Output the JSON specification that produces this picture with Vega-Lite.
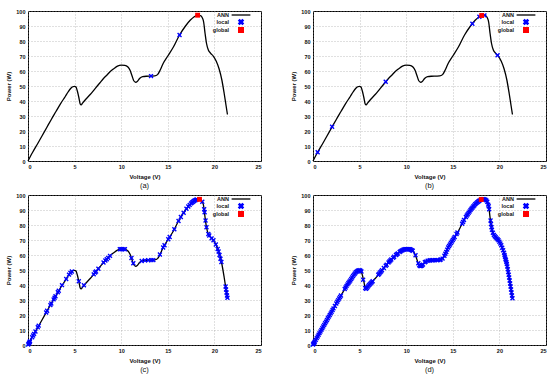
{
  "$schema": "https://vega.github.io/schema/vega-lite/v6.json",
  "background": "white",
  "padding": {"left": 5, "top": 8, "right": 4, "bottom": 0},
  "config": {
    "view": {"stroke": "black", "strokeWidth": 1},
    "font": "Liberation Sans",
    "axis": {
      "grid": true, "gridDash": [1, 2], "gridColor": "#999", "gridWidth": 0.6,
      "domain": false, "ticks": false, "labelOverlap": false,
      "labelFont": "Liberation Sans", "labelFontSize": 5.5, "labelFontWeight": "bold", "labelColor": "#111",
      "titleFont": "Liberation Sans", "titleFontSize": 6, "titleFontWeight": "bold", "titleColor": "#111",
      "labelPadding": 3, "titlePadding": 4
    },
    "title": {"font": "Liberation Sans", "fontSize": 7.5, "fontWeight": "normal", "color": "#111", "offset": 2},
    "legend": {
      "orient": "none", "legendX": 210, "legendY": 1, "title": null, "padding": 0,
      "labelFont": "Liberation Sans", "labelFontSize": 5.5, "labelFontWeight": "bold", "labelColor": "#111",
      "labelAlign": "right", "labelOffset": -15, "symbolOffset": 0, "symbolSize": 22, "rowPadding": -8, "labelLimit": 100
    }
  },
  "datasets": {
    "curve": [
      {"V": 0, "P": 0}, {"V": 0.5, "P": 5.8}, {"V": 1, "P": 11.2}, {"V": 1.5, "P": 16.7}, {"V": 2, "P": 22.2},
      {"V": 2.5, "P": 27.7}, {"V": 3, "P": 33}, {"V": 3.5, "P": 38.3}, {"V": 4, "P": 43}, {"V": 4.3, "P": 46},
      {"V": 4.6, "P": 48.5}, {"V": 4.8, "P": 49.5}, {"V": 5, "P": 49.8}, {"V": 5.15, "P": 49.3}, {"V": 5.3, "P": 46.5},
      {"V": 5.45, "P": 42.5}, {"V": 5.6, "P": 38}, {"V": 5.7, "P": 37.4}, {"V": 5.85, "P": 38.6}, {"V": 6.2, "P": 41.2},
      {"V": 6.7, "P": 44.5}, {"V": 7.2, "P": 48.3}, {"V": 7.7, "P": 52}, {"V": 8.1, "P": 55}, {"V": 8.5, "P": 57.5},
      {"V": 8.8, "P": 59.5}, {"V": 9.2, "P": 61.5}, {"V": 9.6, "P": 63.2}, {"V": 10, "P": 63.9}, {"V": 10.4, "P": 63.8},
      {"V": 10.7, "P": 62.8}, {"V": 10.95, "P": 60.5}, {"V": 11.15, "P": 57}, {"V": 11.35, "P": 53.5}, {"V": 11.55, "P": 52.5},
      {"V": 11.75, "P": 53.2}, {"V": 12, "P": 55.2}, {"V": 12.3, "P": 56.2}, {"V": 12.7, "P": 56.5}, {"V": 13.2, "P": 56.6},
      {"V": 13.6, "P": 56.7}, {"V": 13.9, "P": 57.6}, {"V": 14.2, "P": 60.8}, {"V": 14.5, "P": 65}, {"V": 15, "P": 70},
      {"V": 15.6, "P": 76}, {"V": 16.26, "P": 84}, {"V": 16.9, "P": 90}, {"V": 17.4, "P": 93.8}, {"V": 17.8, "P": 96},
      {"V": 18.2, "P": 97.2}, {"V": 18.5, "P": 96.9}, {"V": 18.7, "P": 95.5}, {"V": 18.85, "P": 92.5}, {"V": 19, "P": 85},
      {"V": 19.15, "P": 78.5}, {"V": 19.35, "P": 74}, {"V": 19.6, "P": 71.8}, {"V": 19.9, "P": 69.8}, {"V": 20.2, "P": 66.5},
      {"V": 20.5, "P": 61.5}, {"V": 20.8, "P": 54}, {"V": 21.05, "P": 45}, {"V": 21.25, "P": 37}, {"V": 21.4, "P": 31}
    ],
    "marks": [
      {"panel": "a", "type": "local", "V": 13.2, "P": 56.6},
      {"panel": "a", "type": "local", "V": 16.26, "P": 84},
      {"panel": "a", "type": "global", "V": 18.2, "P": 97.2},

      {"panel": "b", "type": "local", "V": 0.5, "P": 5.8},
      {"panel": "b", "type": "local", "V": 2.05, "P": 22.8},
      {"panel": "b", "type": "local", "V": 7.8, "P": 52.8},
      {"panel": "b", "type": "local", "V": 17.1, "P": 91.5},
      {"panel": "b", "type": "local", "V": 17.85, "P": 96.2},
      {"panel": "b", "type": "local", "V": 18.4, "P": 97.1},
      {"panel": "b", "type": "local", "V": 19.8, "P": 70.5},
      {"panel": "b", "type": "global", "V": 18.1, "P": 97},

      {"panel": "c", "type": "local", "V": 0.02, "P": 0.3}, {"panel": "c", "type": "local", "V": 0.08, "P": 0.9},
      {"panel": "c", "type": "local", "V": 0.12, "P": 1.4}, {"panel": "c", "type": "local", "V": 0.18, "P": 2},
      {"panel": "c", "type": "local", "V": 0.22, "P": 2.5}, {"panel": "c", "type": "local", "V": 0.45, "P": 5.2},
      {"panel": "c", "type": "local", "V": 0.55, "P": 6.3}, {"panel": "c", "type": "local", "V": 0.65, "P": 7.4},
      {"panel": "c", "type": "local", "V": 0.8, "P": 9}, {"panel": "c", "type": "local", "V": 1.05, "P": 11.8},
      {"panel": "c", "type": "local", "V": 1.15, "P": 12.9}, {"panel": "c", "type": "local", "V": 1.95, "P": 21.7},
      {"panel": "c", "type": "local", "V": 2.05, "P": 22.8}, {"panel": "c", "type": "local", "V": 2.4, "P": 26.6},
      {"panel": "c", "type": "local", "V": 2.5, "P": 27.7}, {"panel": "c", "type": "local", "V": 2.75, "P": 30.4},
      {"panel": "c", "type": "local", "V": 2.85, "P": 31.5}, {"panel": "c", "type": "local", "V": 2.95, "P": 32.5},
      {"panel": "c", "type": "local", "V": 3.2, "P": 35.2}, {"panel": "c", "type": "local", "V": 3.3, "P": 36.2},
      {"panel": "c", "type": "local", "V": 3.65, "P": 39.9}, {"panel": "c", "type": "local", "V": 4.1, "P": 44},
      {"panel": "c", "type": "local", "V": 4.4, "P": 46.9}, {"panel": "c", "type": "local", "V": 4.55, "P": 48.1},
      {"panel": "c", "type": "local", "V": 4.7, "P": 49}, {"panel": "c", "type": "local", "V": 5.45, "P": 42.5},
      {"panel": "c", "type": "local", "V": 6.0, "P": 39.8}, {"panel": "c", "type": "local", "V": 7.05, "P": 47.1},
      {"panel": "c", "type": "local", "V": 7.2, "P": 48.3}, {"panel": "c", "type": "local", "V": 7.3, "P": 49},
      {"panel": "c", "type": "local", "V": 7.55, "P": 50.8}, {"panel": "c", "type": "local", "V": 8.1, "P": 55},
      {"panel": "c", "type": "local", "V": 8.3, "P": 56.3}, {"panel": "c", "type": "local", "V": 8.45, "P": 57.2},
      {"panel": "c", "type": "local", "V": 8.6, "P": 58.1}, {"panel": "c", "type": "local", "V": 8.8, "P": 59.4},
      {"panel": "c", "type": "local", "V": 9.85, "P": 63.8}, {"panel": "c", "type": "local", "V": 10.0, "P": 63.9},
      {"panel": "c", "type": "local", "V": 10.1, "P": 63.9}, {"panel": "c", "type": "local", "V": 10.25, "P": 63.9},
      {"panel": "c", "type": "local", "V": 10.4, "P": 63.8}, {"panel": "c", "type": "local", "V": 11.1, "P": 58},
      {"panel": "c", "type": "local", "V": 11.3, "P": 54.5}, {"panel": "c", "type": "local", "V": 12.2, "P": 56},
      {"panel": "c", "type": "local", "V": 12.55, "P": 56.4}, {"panel": "c", "type": "local", "V": 12.9, "P": 56.5},
      {"panel": "c", "type": "local", "V": 13.25, "P": 56.6}, {"panel": "c", "type": "local", "V": 13.45, "P": 56.6},
      {"panel": "c", "type": "local", "V": 14.15, "P": 60.3}, {"panel": "c", "type": "local", "V": 14.5, "P": 65},
      {"panel": "c", "type": "local", "V": 14.65, "P": 66.5}, {"panel": "c", "type": "local", "V": 15.05, "P": 70.5},
      {"panel": "c", "type": "local", "V": 15.2, "P": 72}, {"panel": "c", "type": "local", "V": 15.7, "P": 77.2},
      {"panel": "c", "type": "local", "V": 16.15, "P": 82.7}, {"panel": "c", "type": "local", "V": 16.4, "P": 85.3},
      {"panel": "c", "type": "local", "V": 16.7, "P": 88.1}, {"panel": "c", "type": "local", "V": 17.0, "P": 90.8},
      {"panel": "c", "type": "local", "V": 17.2, "P": 92.3}, {"panel": "c", "type": "local", "V": 17.35, "P": 93.4},
      {"panel": "c", "type": "local", "V": 17.5, "P": 94.4}, {"panel": "c", "type": "local", "V": 17.6, "P": 95},
      {"panel": "c", "type": "local", "V": 17.7, "P": 95.5}, {"panel": "c", "type": "local", "V": 17.8, "P": 96},
      {"panel": "c", "type": "local", "V": 17.9, "P": 96.4}, {"panel": "c", "type": "local", "V": 18.0, "P": 96.7},
      {"panel": "c", "type": "local", "V": 18.1, "P": 97}, {"panel": "c", "type": "local", "V": 18.7, "P": 95.5},
      {"panel": "c", "type": "local", "V": 18.9, "P": 90.5}, {"panel": "c", "type": "local", "V": 18.95, "P": 88.5},
      {"panel": "c", "type": "local", "V": 19.05, "P": 83}, {"panel": "c", "type": "local", "V": 19.15, "P": 78.5},
      {"panel": "c", "type": "local", "V": 19.35, "P": 74}, {"panel": "c", "type": "local", "V": 19.45, "P": 73},
      {"panel": "c", "type": "local", "V": 19.7, "P": 71.1}, {"panel": "c", "type": "local", "V": 19.9, "P": 69.8},
      {"panel": "c", "type": "local", "V": 20.15, "P": 67}, {"panel": "c", "type": "local", "V": 20.35, "P": 64},
      {"panel": "c", "type": "local", "V": 20.45, "P": 62.3}, {"panel": "c", "type": "local", "V": 20.55, "P": 60},
      {"panel": "c", "type": "local", "V": 20.65, "P": 57.5}, {"panel": "c", "type": "local", "V": 20.75, "P": 55.3},
      {"panel": "c", "type": "local", "V": 21.2, "P": 39}, {"panel": "c", "type": "local", "V": 21.25, "P": 37},
      {"panel": "c", "type": "local", "V": 21.3, "P": 35}, {"panel": "c", "type": "local", "V": 21.35, "P": 33},
      {"panel": "c", "type": "local", "V": 21.4, "P": 31.5},
      {"panel": "c", "type": "global", "V": 18.4, "P": 97.1},

      {"panel": "d", "type": "local", "V": 0.0, "P": 0.3}, {"panel": "d", "type": "local", "V": 0.05, "P": 0.8},
      {"panel": "d", "type": "local", "V": 0.1, "P": 1.2}, {"panel": "d", "type": "local", "V": 0.15, "P": 1.7},
      {"panel": "d", "type": "local", "V": 0.2, "P": 2.3}, {"panel": "d", "type": "local", "V": 0.3, "P": 3.4},
      {"panel": "d", "type": "local", "V": 0.4, "P": 4.6}, {"panel": "d", "type": "local", "V": 0.5, "P": 5.7},
      {"panel": "d", "type": "local", "V": 0.6, "P": 6.8}, {"panel": "d", "type": "local", "V": 0.7, "P": 7.9},
      {"panel": "d", "type": "local", "V": 0.8, "P": 9}, {"panel": "d", "type": "local", "V": 0.9, "P": 10.1},
      {"panel": "d", "type": "local", "V": 1.0, "P": 11.2}, {"panel": "d", "type": "local", "V": 1.1, "P": 12.3},
      {"panel": "d", "type": "local", "V": 1.2, "P": 13.4}, {"panel": "d", "type": "local", "V": 1.3, "P": 14.5},
      {"panel": "d", "type": "local", "V": 1.4, "P": 15.6}, {"panel": "d", "type": "local", "V": 1.5, "P": 16.7},
      {"panel": "d", "type": "local", "V": 1.6, "P": 17.8}, {"panel": "d", "type": "local", "V": 1.7, "P": 18.9},
      {"panel": "d", "type": "local", "V": 1.8, "P": 20}, {"panel": "d", "type": "local", "V": 1.9, "P": 21.1},
      {"panel": "d", "type": "local", "V": 2.0, "P": 22.2}, {"panel": "d", "type": "local", "V": 2.1, "P": 23.3},
      {"panel": "d", "type": "local", "V": 2.2, "P": 24.4}, {"panel": "d", "type": "local", "V": 2.35, "P": 26},
      {"panel": "d", "type": "local", "V": 2.5, "P": 27.7}, {"panel": "d", "type": "local", "V": 2.6, "P": 28.8},
      {"panel": "d", "type": "local", "V": 2.7, "P": 29.9}, {"panel": "d", "type": "local", "V": 2.8, "P": 31},
      {"panel": "d", "type": "local", "V": 2.9, "P": 32}, {"panel": "d", "type": "local", "V": 3.0, "P": 33},
      {"panel": "d", "type": "local", "V": 3.4, "P": 37.3}, {"panel": "d", "type": "local", "V": 3.5, "P": 38.3},
      {"panel": "d", "type": "local", "V": 3.6, "P": 39.4}, {"panel": "d", "type": "local", "V": 3.7, "P": 40.4},
      {"panel": "d", "type": "local", "V": 3.8, "P": 41.3}, {"panel": "d", "type": "local", "V": 3.9, "P": 42.2},
      {"panel": "d", "type": "local", "V": 4.0, "P": 43}, {"panel": "d", "type": "local", "V": 4.1, "P": 44},
      {"panel": "d", "type": "local", "V": 4.2, "P": 45}, {"panel": "d", "type": "local", "V": 4.3, "P": 46},
      {"panel": "d", "type": "local", "V": 4.4, "P": 46.9}, {"panel": "d", "type": "local", "V": 4.5, "P": 47.7},
      {"panel": "d", "type": "local", "V": 4.6, "P": 48.5}, {"panel": "d", "type": "local", "V": 4.7, "P": 49},
      {"panel": "d", "type": "local", "V": 4.8, "P": 49.5}, {"panel": "d", "type": "local", "V": 4.9, "P": 49.7},
      {"panel": "d", "type": "local", "V": 5.0, "P": 49.8}, {"panel": "d", "type": "local", "V": 5.1, "P": 49.6},
      {"panel": "d", "type": "local", "V": 5.2, "P": 49}, {"panel": "d", "type": "local", "V": 5.38, "P": 43.5},
      {"panel": "d", "type": "local", "V": 5.6, "P": 38}, {"panel": "d", "type": "local", "V": 5.7, "P": 37.4},
      {"panel": "d", "type": "local", "V": 5.8, "P": 38.2}, {"panel": "d", "type": "local", "V": 5.9, "P": 39},
      {"panel": "d", "type": "local", "V": 6.0, "P": 39.8}, {"panel": "d", "type": "local", "V": 6.1, "P": 40.5},
      {"panel": "d", "type": "local", "V": 6.2, "P": 41.2}, {"panel": "d", "type": "local", "V": 6.3, "P": 41.8},
      {"panel": "d", "type": "local", "V": 6.4, "P": 42.5}, {"panel": "d", "type": "local", "V": 7.0, "P": 46.8},
      {"panel": "d", "type": "local", "V": 7.1, "P": 47.5}, {"panel": "d", "type": "local", "V": 7.2, "P": 48.3},
      {"panel": "d", "type": "local", "V": 7.3, "P": 49}, {"panel": "d", "type": "local", "V": 7.4, "P": 49.8},
      {"panel": "d", "type": "local", "V": 7.6, "P": 51.3}, {"panel": "d", "type": "local", "V": 7.8, "P": 52.8},
      {"panel": "d", "type": "local", "V": 7.9, "P": 53.5}, {"panel": "d", "type": "local", "V": 8.1, "P": 55},
      {"panel": "d", "type": "local", "V": 8.2, "P": 55.7}, {"panel": "d", "type": "local", "V": 8.3, "P": 56.3},
      {"panel": "d", "type": "local", "V": 8.4, "P": 57}, {"panel": "d", "type": "local", "V": 8.6, "P": 58.1},
      {"panel": "d", "type": "local", "V": 8.7, "P": 58.8}, {"panel": "d", "type": "local", "V": 8.9, "P": 60},
      {"panel": "d", "type": "local", "V": 9.0, "P": 60.5}, {"panel": "d", "type": "local", "V": 9.1, "P": 61},
      {"panel": "d", "type": "local", "V": 9.3, "P": 62}, {"panel": "d", "type": "local", "V": 9.4, "P": 62.5},
      {"panel": "d", "type": "local", "V": 9.5, "P": 62.9}, {"panel": "d", "type": "local", "V": 9.6, "P": 63.2},
      {"panel": "d", "type": "local", "V": 9.7, "P": 63.5}, {"panel": "d", "type": "local", "V": 9.8, "P": 63.7},
      {"panel": "d", "type": "local", "V": 9.9, "P": 63.8}, {"panel": "d", "type": "local", "V": 10.0, "P": 63.9},
      {"panel": "d", "type": "local", "V": 10.1, "P": 63.9}, {"panel": "d", "type": "local", "V": 10.2, "P": 63.9},
      {"panel": "d", "type": "local", "V": 10.3, "P": 63.8}, {"panel": "d", "type": "local", "V": 10.4, "P": 63.8},
      {"panel": "d", "type": "local", "V": 10.5, "P": 63.5}, {"panel": "d", "type": "local", "V": 10.6, "P": 63.2},
      {"panel": "d", "type": "local", "V": 10.7, "P": 62.8}, {"panel": "d", "type": "local", "V": 11.0, "P": 59.8},
      {"panel": "d", "type": "local", "V": 11.3, "P": 54.5}, {"panel": "d", "type": "local", "V": 11.4, "P": 53.2},
      {"panel": "d", "type": "local", "V": 11.5, "P": 52.6}, {"panel": "d", "type": "local", "V": 11.6, "P": 52.6},
      {"panel": "d", "type": "local", "V": 11.7, "P": 53}, {"panel": "d", "type": "local", "V": 11.8, "P": 53.6},
      {"panel": "d", "type": "local", "V": 12.0, "P": 55.2}, {"panel": "d", "type": "local", "V": 12.1, "P": 55.6},
      {"panel": "d", "type": "local", "V": 12.3, "P": 56.2}, {"panel": "d", "type": "local", "V": 12.5, "P": 56.4},
      {"panel": "d", "type": "local", "V": 12.6, "P": 56.5}, {"panel": "d", "type": "local", "V": 12.8, "P": 56.5},
      {"panel": "d", "type": "local", "V": 12.9, "P": 56.5}, {"panel": "d", "type": "local", "V": 13.1, "P": 56.6},
      {"panel": "d", "type": "local", "V": 13.3, "P": 56.6}, {"panel": "d", "type": "local", "V": 13.4, "P": 56.6},
      {"panel": "d", "type": "local", "V": 13.6, "P": 56.7}, {"panel": "d", "type": "local", "V": 13.7, "P": 57},
      {"panel": "d", "type": "local", "V": 13.9, "P": 57.6}, {"panel": "d", "type": "local", "V": 14.1, "P": 59.5},
      {"panel": "d", "type": "local", "V": 14.2, "P": 60.8}, {"panel": "d", "type": "local", "V": 14.3, "P": 62},
      {"panel": "d", "type": "local", "V": 14.4, "P": 63.6}, {"panel": "d", "type": "local", "V": 14.5, "P": 65},
      {"panel": "d", "type": "local", "V": 14.6, "P": 66}, {"panel": "d", "type": "local", "V": 14.7, "P": 67},
      {"panel": "d", "type": "local", "V": 14.8, "P": 68}, {"panel": "d", "type": "local", "V": 14.9, "P": 69},
      {"panel": "d", "type": "local", "V": 15.0, "P": 70}, {"panel": "d", "type": "local", "V": 15.1, "P": 71},
      {"panel": "d", "type": "local", "V": 15.2, "P": 72}, {"panel": "d", "type": "local", "V": 15.4, "P": 74},
      {"panel": "d", "type": "local", "V": 15.5, "P": 75}, {"panel": "d", "type": "local", "V": 16.0, "P": 80.8},
      {"panel": "d", "type": "local", "V": 16.1, "P": 82}, {"panel": "d", "type": "local", "V": 16.2, "P": 83.3},
      {"panel": "d", "type": "local", "V": 16.4, "P": 85.3}, {"panel": "d", "type": "local", "V": 16.5, "P": 86.3},
      {"panel": "d", "type": "local", "V": 16.6, "P": 87.2}, {"panel": "d", "type": "local", "V": 16.7, "P": 88.1},
      {"panel": "d", "type": "local", "V": 16.8, "P": 89}, {"panel": "d", "type": "local", "V": 16.9, "P": 90},
      {"panel": "d", "type": "local", "V": 17.0, "P": 90.8}, {"panel": "d", "type": "local", "V": 17.1, "P": 91.5},
      {"panel": "d", "type": "local", "V": 17.2, "P": 92.3}, {"panel": "d", "type": "local", "V": 17.3, "P": 93},
      {"panel": "d", "type": "local", "V": 17.4, "P": 93.8}, {"panel": "d", "type": "local", "V": 17.5, "P": 94.4},
      {"panel": "d", "type": "local", "V": 17.6, "P": 95}, {"panel": "d", "type": "local", "V": 17.7, "P": 95.5},
      {"panel": "d", "type": "local", "V": 17.8, "P": 96}, {"panel": "d", "type": "local", "V": 17.9, "P": 96.4},
      {"panel": "d", "type": "local", "V": 18.2, "P": 97.2}, {"panel": "d", "type": "local", "V": 18.3, "P": 97.2},
      {"panel": "d", "type": "local", "V": 18.4, "P": 97.1}, {"panel": "d", "type": "local", "V": 18.5, "P": 96.9},
      {"panel": "d", "type": "local", "V": 18.6, "P": 96.4}, {"panel": "d", "type": "local", "V": 18.7, "P": 95.5},
      {"panel": "d", "type": "local", "V": 18.8, "P": 93.6}, {"panel": "d", "type": "local", "V": 18.85, "P": 92.5},
      {"panel": "d", "type": "local", "V": 18.9, "P": 90.5}, {"panel": "d", "type": "local", "V": 19.05, "P": 83},
      {"panel": "d", "type": "local", "V": 19.1, "P": 80.7}, {"panel": "d", "type": "local", "V": 19.15, "P": 78.5},
      {"panel": "d", "type": "local", "V": 19.2, "P": 76.8}, {"panel": "d", "type": "local", "V": 19.3, "P": 74.8},
      {"panel": "d", "type": "local", "V": 19.4, "P": 73.4}, {"panel": "d", "type": "local", "V": 19.5, "P": 72.5},
      {"panel": "d", "type": "local", "V": 19.6, "P": 71.8}, {"panel": "d", "type": "local", "V": 19.7, "P": 71.1},
      {"panel": "d", "type": "local", "V": 19.8, "P": 70.5}, {"panel": "d", "type": "local", "V": 19.9, "P": 69.8},
      {"panel": "d", "type": "local", "V": 20.0, "P": 68.8}, {"panel": "d", "type": "local", "V": 20.1, "P": 67.7},
      {"panel": "d", "type": "local", "V": 20.2, "P": 66.5}, {"panel": "d", "type": "local", "V": 20.3, "P": 64.8},
      {"panel": "d", "type": "local", "V": 20.4, "P": 63.2}, {"panel": "d", "type": "local", "V": 20.5, "P": 61.5},
      {"panel": "d", "type": "local", "V": 20.55, "P": 60}, {"panel": "d", "type": "local", "V": 20.6, "P": 58.8},
      {"panel": "d", "type": "local", "V": 20.65, "P": 57.5}, {"panel": "d", "type": "local", "V": 20.7, "P": 56.5},
      {"panel": "d", "type": "local", "V": 20.75, "P": 55.3}, {"panel": "d", "type": "local", "V": 20.8, "P": 54},
      {"panel": "d", "type": "local", "V": 20.85, "P": 52.3}, {"panel": "d", "type": "local", "V": 20.9, "P": 50.5},
      {"panel": "d", "type": "local", "V": 20.95, "P": 48.7}, {"panel": "d", "type": "local", "V": 21.0, "P": 46.8},
      {"panel": "d", "type": "local", "V": 21.05, "P": 45}, {"panel": "d", "type": "local", "V": 21.1, "P": 43},
      {"panel": "d", "type": "local", "V": 21.15, "P": 41}, {"panel": "d", "type": "local", "V": 21.2, "P": 39},
      {"panel": "d", "type": "local", "V": 21.25, "P": 37}, {"panel": "d", "type": "local", "V": 21.3, "P": 35},
      {"panel": "d", "type": "local", "V": 21.35, "P": 33}, {"panel": "d", "type": "local", "V": 21.4, "P": 31.2},
      {"panel": "d", "type": "global", "V": 18.05, "P": 97}
    ]
  },
  "columns": 2,
  "spacing": {"row": 2, "column": 28},
  "resolve": {"scale": {"color": "independent"}, "legend": {"color": "independent"}},
  "concat": [
    {
      "width": 233, "height": 150,
      "title": {"text": "(a)", "orient": "bottom"},
      "layer": [
        {"data": {"name": "curve"}, "mark": {"type": "line", "strokeWidth": 1.3, "interpolate": "monotone"},
         "encoding": {
           "x": {"field": "V", "type": "quantitative", "scale": {"domain": [0, 25], "nice": false}, "axis": {"values": [0, 5, 10, 15, 20, 25], "title": "Voltage (V)", "labelOverlap": false}},
           "y": {"field": "P", "type": "quantitative", "scale": {"domain": [0, 100], "nice": false}, "axis": {"values": [0, 10, 20, 30, 40, 50, 60, 70, 80, 90, 100], "tickCount": 11, "labelOverlap": false, "labelSeparation": 0, "title": "Power (W)"}},
           "color": {"datum": "ANN", "type": "nominal", "scale": {"domain": ["ANN", "local", "global"], "range": ["black", "blue", "red"]},
             "legend": {"encode": {"symbols": {"update": {
               "shape": {"signal": "datum.value === 'ANN' ? 'M-4,0L4,0' : datum.value === 'local' ? 'M-1,-0.6L-0.6,-1L0,-0.4L0.6,-1L1,-0.6L0.4,0L1,0.6L0.6,1L0,0.4L-0.6,1L-1,0.6L-0.4,0Z' : 'square'"},
               "size": {"value": 22},
               "fill": {"signal": "datum.value === 'ANN' ? 'transparent' : datum.value === 'local' ? 'blue' : 'red'"},
               "stroke": {"signal": "datum.value === 'ANN' ? 'black' : 'transparent'"},
               "strokeWidth": {"value": 1.3}, "opacity": {"value": 1}}}}}}
         }},
        {"data": {"name": "marks"}, "transform": [{"filter": "datum.panel === 'a'"}],
         "mark": {"type": "point", "filled": true, "opacity": 1},
         "encoding": {
           "x": {"field": "V", "type": "quantitative"},
           "y": {"field": "P", "type": "quantitative"},
           "color": {"field": "type", "type": "nominal"},
           "shape": {"field": "type", "type": "nominal", "scale": {"domain": ["local", "global"], "range": ["M-1,-0.6L-0.6,-1L0,-0.4L0.6,-1L1,-0.6L0.4,0L1,0.6L0.6,1L0,0.4L-0.6,1L-1,0.6L-0.4,0Z", "square"]}, "legend": null},
           "size": {"value": 24}
         }}
      ]
    },
    {
      "width": 233, "height": 150,
      "title": {"text": "(b)", "orient": "bottom"},
      "layer": [
        {"data": {"name": "curve"}, "mark": {"type": "line", "strokeWidth": 1.3, "interpolate": "monotone"},
         "encoding": {
           "x": {"field": "V", "type": "quantitative", "scale": {"domain": [0, 25], "nice": false}, "axis": {"values": [0, 5, 10, 15, 20, 25], "title": "Voltage (V)", "labelOverlap": false}},
           "y": {"field": "P", "type": "quantitative", "scale": {"domain": [0, 100], "nice": false}, "axis": {"values": [0, 10, 20, 30, 40, 50, 60, 70, 80, 90, 100], "tickCount": 11, "labelOverlap": false, "labelSeparation": 0, "title": "Power (W)"}},
           "color": {"datum": "ANN", "type": "nominal", "scale": {"domain": ["ANN", "local", "global"], "range": ["black", "blue", "red"]},
             "legend": {"encode": {"symbols": {"update": {
               "shape": {"signal": "datum.value === 'ANN' ? 'M-4,0L4,0' : datum.value === 'local' ? 'M-1,-0.6L-0.6,-1L0,-0.4L0.6,-1L1,-0.6L0.4,0L1,0.6L0.6,1L0,0.4L-0.6,1L-1,0.6L-0.4,0Z' : 'square'"},
               "size": {"value": 22},
               "fill": {"signal": "datum.value === 'ANN' ? 'transparent' : datum.value === 'local' ? 'blue' : 'red'"},
               "stroke": {"signal": "datum.value === 'ANN' ? 'black' : 'transparent'"},
               "strokeWidth": {"value": 1.3}, "opacity": {"value": 1}}}}}}
         }},
        {"data": {"name": "marks"}, "transform": [{"filter": "datum.panel === 'b'"}],
         "mark": {"type": "point", "filled": true, "opacity": 1},
         "encoding": {
           "x": {"field": "V", "type": "quantitative"},
           "y": {"field": "P", "type": "quantitative"},
           "color": {"field": "type", "type": "nominal"},
           "shape": {"field": "type", "type": "nominal", "scale": {"domain": ["local", "global"], "range": ["M-1,-0.6L-0.6,-1L0,-0.4L0.6,-1L1,-0.6L0.4,0L1,0.6L0.6,1L0,0.4L-0.6,1L-1,0.6L-0.4,0Z", "square"]}, "legend": null},
           "size": {"value": 24}
         }}
      ]
    },
    {
      "width": 233, "height": 150,
      "title": {"text": "(c)", "orient": "bottom"},
      "layer": [
        {"data": {"name": "curve"}, "mark": {"type": "line", "strokeWidth": 1.3, "interpolate": "monotone"},
         "encoding": {
           "x": {"field": "V", "type": "quantitative", "scale": {"domain": [0, 25], "nice": false}, "axis": {"values": [0, 5, 10, 15, 20, 25], "title": "Voltage (V)", "labelOverlap": false}},
           "y": {"field": "P", "type": "quantitative", "scale": {"domain": [0, 100], "nice": false}, "axis": {"values": [0, 10, 20, 30, 40, 50, 60, 70, 80, 90, 100], "tickCount": 11, "labelOverlap": false, "labelSeparation": 0, "title": "Power (W)"}},
           "color": {"datum": "ANN", "type": "nominal", "scale": {"domain": ["ANN", "local", "global"], "range": ["black", "blue", "red"]},
             "legend": {"encode": {"symbols": {"update": {
               "shape": {"signal": "datum.value === 'ANN' ? 'M-4,0L4,0' : datum.value === 'local' ? 'M-1,-0.6L-0.6,-1L0,-0.4L0.6,-1L1,-0.6L0.4,0L1,0.6L0.6,1L0,0.4L-0.6,1L-1,0.6L-0.4,0Z' : 'square'"},
               "size": {"value": 22},
               "fill": {"signal": "datum.value === 'ANN' ? 'transparent' : datum.value === 'local' ? 'blue' : 'red'"},
               "stroke": {"signal": "datum.value === 'ANN' ? 'black' : 'transparent'"},
               "strokeWidth": {"value": 1.3}, "opacity": {"value": 1}}}}}}
         }},
        {"data": {"name": "marks"}, "transform": [{"filter": "datum.panel === 'c'"}],
         "mark": {"type": "point", "filled": true, "opacity": 1},
         "encoding": {
           "x": {"field": "V", "type": "quantitative"},
           "y": {"field": "P", "type": "quantitative"},
           "color": {"field": "type", "type": "nominal"},
           "shape": {"field": "type", "type": "nominal", "scale": {"domain": ["local", "global"], "range": ["M-1,-0.6L-0.6,-1L0,-0.4L0.6,-1L1,-0.6L0.4,0L1,0.6L0.6,1L0,0.4L-0.6,1L-1,0.6L-0.4,0Z", "square"]}, "legend": null},
           "size": {"value": 24}
         }}
      ]
    },
    {
      "width": 233, "height": 150,
      "title": {"text": "(d)", "orient": "bottom"},
      "layer": [
        {"data": {"name": "curve"}, "mark": {"type": "line", "strokeWidth": 1.3, "interpolate": "monotone"},
         "encoding": {
           "x": {"field": "V", "type": "quantitative", "scale": {"domain": [0, 25], "nice": false}, "axis": {"values": [0, 5, 10, 15, 20, 25], "title": "Voltage (V)", "labelOverlap": false}},
           "y": {"field": "P", "type": "quantitative", "scale": {"domain": [0, 100], "nice": false}, "axis": {"values": [0, 10, 20, 30, 40, 50, 60, 70, 80, 90, 100], "tickCount": 11, "labelOverlap": false, "labelSeparation": 0, "title": "Power (W)"}},
           "color": {"datum": "ANN", "type": "nominal", "scale": {"domain": ["ANN", "local", "global"], "range": ["black", "blue", "red"]},
             "legend": {"encode": {"symbols": {"update": {
               "shape": {"signal": "datum.value === 'ANN' ? 'M-4,0L4,0' : datum.value === 'local' ? 'M-1,-0.6L-0.6,-1L0,-0.4L0.6,-1L1,-0.6L0.4,0L1,0.6L0.6,1L0,0.4L-0.6,1L-1,0.6L-0.4,0Z' : 'square'"},
               "size": {"value": 22},
               "fill": {"signal": "datum.value === 'ANN' ? 'transparent' : datum.value === 'local' ? 'blue' : 'red'"},
               "stroke": {"signal": "datum.value === 'ANN' ? 'black' : 'transparent'"},
               "strokeWidth": {"value": 1.3}, "opacity": {"value": 1}}}}}}
         }},
        {"data": {"name": "marks"}, "transform": [{"filter": "datum.panel === 'd'"}],
         "mark": {"type": "point", "filled": true, "opacity": 1},
         "encoding": {
           "x": {"field": "V", "type": "quantitative"},
           "y": {"field": "P", "type": "quantitative"},
           "color": {"field": "type", "type": "nominal"},
           "shape": {"field": "type", "type": "nominal", "scale": {"domain": ["local", "global"], "range": ["M-1,-0.6L-0.6,-1L0,-0.4L0.6,-1L1,-0.6L0.4,0L1,0.6L0.6,1L0,0.4L-0.6,1L-1,0.6L-0.4,0Z", "square"]}, "legend": null},
           "size": {"value": 24}
         }}
      ]
    }
  ]
}
